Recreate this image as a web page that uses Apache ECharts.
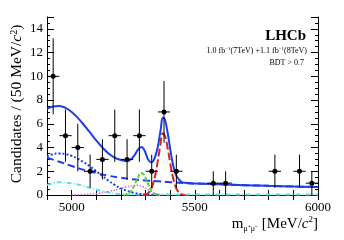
<!DOCTYPE html>
<html><head><meta charset="utf-8">
<script src="https://cdn.jsdelivr.net/npm/echarts@6/dist/echarts.min.js"></script>
<style>html,body{margin:0;padding:0;background:#fff}#c{width:344px;height:240px}</style>
</head><body><div id="c"></div>
<script>
// Data points (50 MeV bins)
const binCenters = [4925, 4975, 5025, 5075, 5125, 5175, 5225, 5275, 5325, 5375, 5425, 5575, 5625, 5825, 5925, 5975];
const counts     = [10, 5, 4, 2, 3, 5, 3, 5, 2, 7, 2, 1, 1, 2, 2, 1];
const errors     = [3.2, 2.2, 2.0, 1.4, 1.7, 2.2, 1.7, 2.2, 1.4, 2.6, 1.4, 1.0, 1.0, 1.4, 1.4, 1.0];
const binHalf = 25;

// Fit curves: [mass, value]
const totalFit = [[4900,7.25],[4925,7.45],[4950,7.5],[4975,7.35],[5000,7.0],[5025,6.5],[5050,5.9],[5075,5.25],[5100,4.6],[5125,4.0],[5150,3.5],[5175,3.15],[5200,2.95],[5225,2.88],[5240,3.0],[5255,3.35],[5270,3.85],[5283,4.05],[5295,3.8],[5310,3.0],[5322,2.75],[5335,3.0],[5350,4.1],[5362,5.6],[5370,6.5],[5378,6.4],[5390,5.2],[5400,3.9],[5410,2.7],[5420,1.9],[5430,1.45],[5445,1.12],[5460,1.03],[5500,0.97],[5600,0.9],[5700,0.83],[5800,0.77],[5900,0.72],[6000,0.67]];
const combBkg = [[4900,3.15],[4950,2.8],[5000,2.45],[5050,2.12],[5100,1.85],[5150,1.62],[5200,1.45],[5250,1.32],[5300,1.22],[5350,1.15],[5400,1.08],[5450,1.02],[5500,0.97],[5600,0.9],[5700,0.83],[5800,0.77],[5900,0.72],[6000,0.67]];
const partReco = [[4900,3.25],[4925,3.45],[4950,3.5],[4975,3.45],[5000,3.3],[5025,3.05],[5050,2.75],[5075,2.4],[5100,2.0],[5125,1.6],[5150,1.2],[5175,0.85],[5200,0.55],[5225,0.35],[5250,0.2],[5275,0.1],[5300,0.04],[5350,0.0]];
const cyanBkg = [[4900,0.85],[4925,1.0],[4950,1.08],[4975,1.05],[5000,0.98],[5025,0.88],[5050,0.75],[5075,0.6],[5100,0.45],[5125,0.32],[5150,0.2],[5175,0.12],[5200,0.07],[5250,0.05],[5300,0.05],[5500,0.05],[6000,0.05]];
const peakingBkg = [[5000,0.0],[5050,0.05],[5100,0.12],[5150,0.3],[5200,0.55],[5225,0.7],[5250,0.8],[5270,0.82],[5290,0.7],[5310,0.45],[5330,0.2],[5350,0.05],[5370,0.0]];
const bdSignal = [[5210,0.0],[5220,0.03],[5230,0.1],[5240,0.3],[5250,0.6],[5260,1.05],[5270,1.5],[5280,1.85],[5290,1.8],[5300,1.45],[5310,0.95],[5320,0.5],[5330,0.2],[5340,0.07],[5350,0.02],[5360,0.0]];
const bsSignal = [[5290,0.0],[5300,0.05],[5310,0.15],[5320,0.4],[5330,0.9],[5340,1.75],[5350,2.9],[5360,4.2],[5370,5.2],[5380,4.9],[5390,3.9],[5400,2.7],[5410,1.6],[5420,0.8],[5430,0.35],[5440,0.12],[5450,0.03],[5460,0.0]];
const xLabels = [5000, 5500, 6000];
const yLabels = [0, 2, 4, 6, 8, 10, 12, 14];

const serif = 'Liberation Serif';
const BLUE = '#1c3cf0';
const chart = echarts.init(document.getElementById('c'), null, {renderer:'canvas'});

const pts = binCenters.map((x,i)=>[x, counts[i], errors[i]]);

function lineSeries(name, data, color, type, width){
  return {name, type:'line', data, smooth:0.4, symbol:'none', xAxisIndex:0, yAxisIndex:0,
    lineStyle:{color, width, type}, z:3, animation:false, clip:true};
}

chart.setOption({
  animation:false,
  grid:{left:47, right:26, top:17, bottom:45, show:false},
  xAxis:[{
    type:'value', min:4900, max:6000, interval:100, position:'bottom',
    axisLine:{show:true, lineStyle:{color:'#000', width:1}},
    axisTick:{show:true, inside:true, length:5, lineStyle:{color:'#000'}},
    axisLabel:{fontFamily:serif, fontSize:13, color:'#000', margin:6,
      formatter:v=> xLabels.includes(v) ? String(v) : ''},
    splitLine:{show:false}
  },{
    type:'value', min:4900, max:6000, interval:100, position:'top',
    axisLine:{show:true, lineStyle:{color:'#000', width:1}},
    axisTick:{show:true, inside:true, length:5, lineStyle:{color:'#000'}},
    axisLabel:{show:false}, splitLine:{show:false}
  }],
  yAxis:[{
    type:'value', min:0, max:15, interval:2, position:'left',
    axisLine:{show:true, lineStyle:{color:'#000', width:1}},
    axisTick:{show:true, inside:true, length:7, lineStyle:{color:'#000'}},
    minorTick:{show:true, splitNumber:4, length:3, lineStyle:{color:'#000'}},
    axisLabel:{fontFamily:serif, fontSize:13, color:'#000', margin:4,
      formatter:v=> yLabels.includes(v) ? String(v) : ''},
    splitLine:{show:false}, minorSplitLine:{show:false}
  },{
    type:'value', min:0, max:15, interval:2, position:'right',
    axisLine:{show:true, lineStyle:{color:'#000', width:1}},
    axisTick:{show:true, inside:true, length:7, lineStyle:{color:'#000'}},
    minorTick:{show:true, splitNumber:4, length:3, lineStyle:{color:'#000'}},
    axisLabel:{show:false}, splitLine:{show:false}
  }],
  series:[
    lineSeries('cyan', cyanBkg, '#5fe3e3', [5,2,1,2], 2),
    lineSeries('peaking', peakingBkg, '#d36ee6', [1.5,1.5], 1.5),
    lineSeries('partReco', partReco, BLUE, [2,2], 2),
    lineSeries('comb', combBkg, BLUE, [7,4], 2),
    lineSeries('Bd', bdSignal, '#58d62a', [4,2], 2),
    lineSeries('Bs', bsSignal, '#dd2020', [8,3], 2),
    lineSeries('total', totalFit, BLUE, 'solid', 2),
    {
      type:'custom', name:'data', data:pts, z:10, clip:false,
      renderItem:(params, api)=>{
        const x = api.value(0), y = api.value(1), e = api.value(2);
        const c = api.coord([x, y]);
        const top = api.coord([x, y + e]);
        const bot = api.coord([x, Math.max(0, y - e)]);
        const l = api.coord([x - binHalf, y]);
        const r = api.coord([x + binHalf, y]);
        const st = {stroke:'#000', lineWidth:1};
        return {type:'group', children:[
          {type:'line', shape:{x1:c[0], y1:top[1], x2:c[0], y2:bot[1]}, style:st},
          {type:'line', shape:{x1:l[0], y1:c[1], x2:r[0], y2:c[1]}, style:st},
          {type:'circle', shape:{cx:c[0], cy:c[1], r:2.5}, style:{fill:'#000'}}
        ]};
      }
    }
  ],
  graphic:[
    {type:'text', x:17, y:104, rotation:Math.PI/2,
      style:{text:'Candidates / (50 MeV/{i|c}{s|2})', fontFamily:serif, fontSize:15.5, fill:'#000',
        align:'center', verticalAlign:'middle',
        rich:{i:{fontStyle:'italic', fontFamily:serif, fontSize:15.5}, s:{fontFamily:serif, fontSize:10, verticalAlign:'top', lineHeight:15}}}},
    {type:'text', x:318, y:224,
      style:{text:'m{sub|μ⁺μ⁻} [MeV/{i|c}{s|2}]', fontFamily:serif, fontSize:15, fill:'#000',
        align:'right', verticalAlign:'middle',
        rich:{sub:{fontFamily:serif, fontSize:8, verticalAlign:'bottom', lineHeight:18, padding:[6,0,0,0]},
              i:{fontStyle:'italic', fontFamily:serif, fontSize:15},
              s:{fontFamily:serif, fontSize:9, verticalAlign:'top', lineHeight:18}}}},
    {type:'text', x:306, y:36,
      style:{text:'LHCb', fontFamily:serif, fontWeight:'bold', fontSize:15, fill:'#000', align:'right', verticalAlign:'middle'}},
    {type:'text', x:307, y:51,
      style:{text:'1.0 fb{s|−1}(7TeV) +1.1 fb{s|−1}(8TeV)', fontFamily:serif, fontSize:8, fill:'#000', align:'right', verticalAlign:'middle',
        rich:{s:{fontFamily:serif, fontSize:5, verticalAlign:'top', lineHeight:10}}}},
    {type:'text', x:304, y:63,
      style:{text:'BDT > 0.7', fontFamily:serif, fontSize:8, fill:'#000', align:'right', verticalAlign:'middle'}}
  ]
});
</script></body></html>
